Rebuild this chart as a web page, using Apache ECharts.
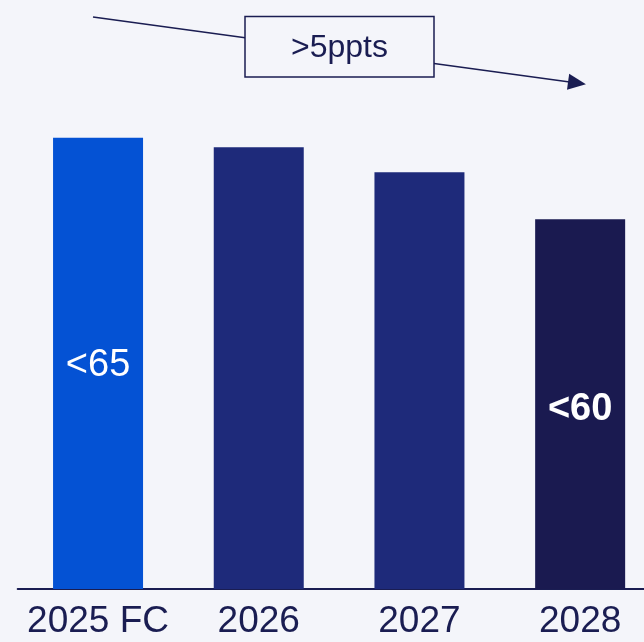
<!DOCTYPE html>
<html>
<head>
<meta charset="utf-8">
<script src="https://cdn.jsdelivr.net/npm/echarts@6/dist/echarts.min.js"></script>
<style>
  html, body { margin: 0; padding: 0; background: #f4f5fa; }
  #chart { width: 644px; height: 642px; }
</style>
</head>
<body>
<div id="chart"></div>
<script>
// Years on the horizontal axis
const categories = ['2025 FC', '2026', '2027', '2028'];
// Ratio per year (per cent)
const values = [64.8, 64.2, 62.6, 59.6];
// Text printed inside selected bars
const barLabels = ['<65', '', '', '<60'];
// Annotation over the decline
const trendLabel = '>5ppts';

const barColors = ['#0452d4', '#1e2a7a', '#1e2a7a', '#1a1a50'];
const ink = '#1a1d52';
const bg = '#f4f5fa';
const font = '"Liberation Sans", Arial, sans-serif';

const chart = echarts.init(document.getElementById('chart'));

chart.setOption({
  backgroundColor: bg,
  animation: false,
  grid: {
    left: 17.7,
    width: 642.8,
    top: 119,
    bottom: 53,
    outerBoundsMode: 'none',
    containLabel: false
  },
  xAxis: {
    type: 'category',
    data: categories,
    axisLine: { lineStyle: { color: ink, width: 2 } },
    axisTick: { show: false },
    axisLabel: {
      color: ink,
      fontFamily: font,
      fontSize: 37,
      margin: 14,
      interval: 0
    }
  },
  yAxis: {
    type: 'value',
    min: 36,
    max: 66,
    show: false,
    splitLine: { show: false }
  },
  series: [{
    type: 'bar',
    barWidth: 90,
    data: values.map((v, i) => ({
      value: v,
      itemStyle: { color: barColors[i] },
      label: {
        show: barLabels[i] !== '',
        formatter: barLabels[i],
        fontWeight: i === 3 ? 'bold' : 'normal',
        offset: i === 3 ? [0, 5] : [0, 2]
      }
    })),
    label: {
      position: 'inside',
      color: '#ffffff',
      fontFamily: font,
      fontSize: 38
    },
    markLine: {
      silent: true,
      symbol: ['none', 'triangle'],
      symbolSize: [16, 18],
      label: { show: false },
      lineStyle: { color: ink, width: 1.5, type: 'solid' },
      data: [[{ x: 93, y: 17 }, { x: 577, y: 83 }]]
    }
  }],
  graphic: {
    elements: [{
      type: 'rect',
      z: 100,
      shape: { x: 245, y: 16.5, width: 189, height: 60.5 },
      style: { fill: bg, stroke: ink, lineWidth: 1.5 }
    }, {
      type: 'text',
      z: 101,
      x: 339.5,
      y: 48,
      style: {
        text: trendLabel,
        fill: ink,
        font: '32px ' + font,
        align: 'center',
        verticalAlign: 'middle'
      }
    }]
  }
});
</script>
</body>
</html>
